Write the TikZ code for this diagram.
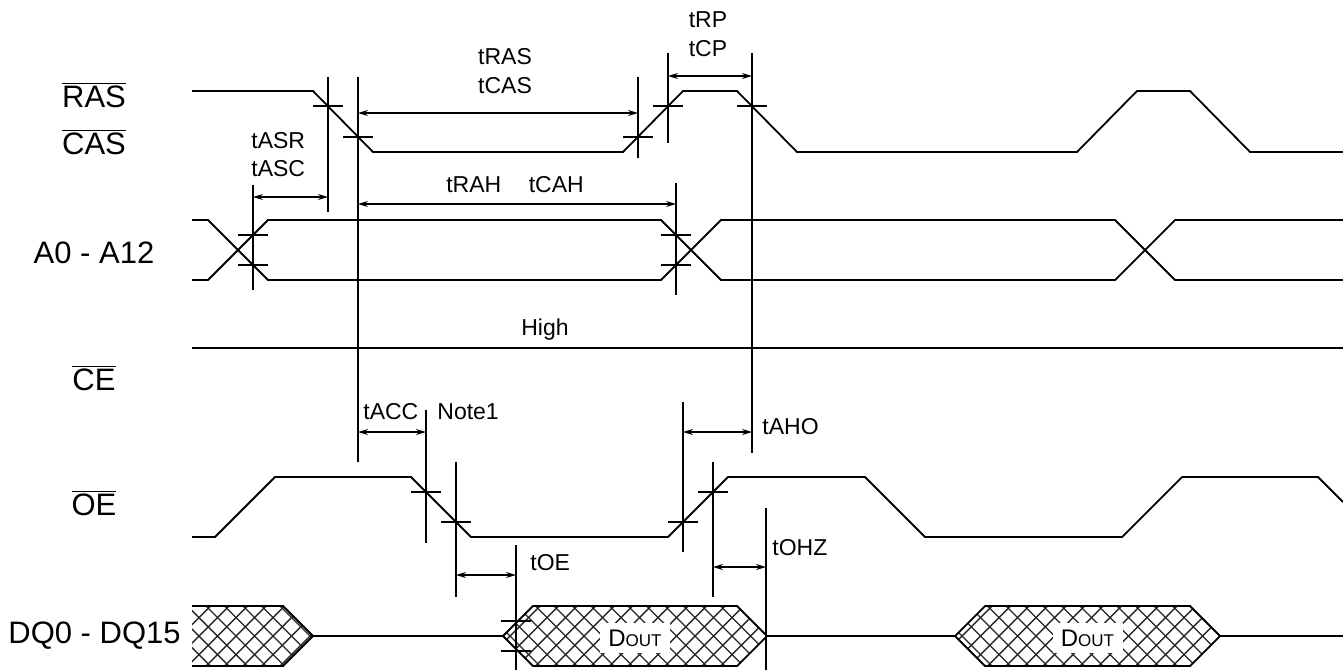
\documentclass[tikz,border=0pt]{standalone}
\usepackage{fontspec}
\setmainfont{Liberation Sans}
\usetikzlibrary{arrows.meta}

\newcommand\tmark[2]{\draw[guide] ({#1-15},#2) -- ({#1+15},#2);}
\newcommand\vguide[3]{\draw[guide] (#1,#2) -- (#1,#3);}
\newcommand\ovl[1]{$\overline{\mbox{#1}}$}
\newcommand\doutbox[3]{%
  \begin{scope}
    \clip (#1,636) -- ({#1+30},606) -- ({#2-30},606) -- (#2,636)
      -- ({#2-30},666) -- ({#1+30},666) -- cycle;
    \foreach \i in {0,...,19} {
      \draw[hatch] ({#1-60+18.5*\i},606) -- ++(60,60);
      \draw[hatch] ({#1-60+18.5*\i},666) -- ++(60,-60);
    }
  \end{scope}
  \draw[sig] (#1,636) -- ({#1+30},606) -- ({#2-30},606) -- (#2,636)
    -- ({#2-30},666) -- ({#1+30},666) -- cycle;
  \node[sml,font=\fontsize{12}{14}\selectfont,fill=white,
        minimum width=35pt,minimum height=15pt] (#3)
    at ({(#1+#2)/2},638) {D\fontsize{8.5}{10}\selectfont OUT};}

\begin{document}
\begin{tikzpicture}[x=0.5pt,y=-0.5pt,
  sig/.style={line width=0.9pt},
  guide/.style={line width=0.6pt},
  hatch/.style={line width=0.7pt,black!85},
  span/.style={line width=0.6pt,{Stealth[length=5pt,width=3pt]}-{Stealth[length=5pt,width=3pt]}},
  big/.style={font=\fontsize{15.5}{18}\selectfont,inner sep=0pt},
  sml/.style={font=\fontsize{11.5}{13}\selectfont,inner sep=0pt}]
  \useasboundingbox (0,0) rectangle (1343,670);
  % signal names
  \node[big] (ras) at (94,95)  {\ovl{RAS}};
  \node[big] (cas) at (94,142) {\ovl{CAS}};
  \node[big] (adr) at (94,253) {A0 - A12};
  \node[big] (ce)  at (94,378) {\ovl{CE}};
  \node[big] (oe)  at (94,503) {\ovl{OE}};
  \node[big,anchor=west] (dq) at (8,636) {DQ0 - DQ15};
  % RAS / CAS
  \draw[sig] (192,91) -- (313,91) -- (373,152) -- (623,152) -- (683,91)
    -- (737,91) -- (797,152) -- (1077,152) -- (1137,91) -- (1190,91)
    -- (1250,152) -- (1343,152);
  \tmark{328}{106} \tmark{358}{137} \tmark{638}{137} \tmark{668}{106}
  \tmark{752}{106}
  % address bus
  \draw[sig] (192,220) -- (208,220) -- (268,280) -- (661,280) -- (721,220)
    -- (1115,220) -- (1175,280) -- (1343,280);
  \draw[sig] (192,280) -- (208,280) -- (268,220) -- (661,220) -- (721,280)
    -- (1115,280) -- (1175,220) -- (1343,220);
  \tmark{253}{235} \tmark{253}{265} \tmark{676}{235} \tmark{676}{265}
  % CE held high
  \draw[sig] (192,348) -- (1343,348);
  \node[sml] (high) at (545,330) {High};
  % OE
  \draw[sig] (192,537) -- (215,537) -- (275,477) -- (411,477) -- (471,537)
    -- (668,537) -- (728,477) -- (865,477) -- (925,537) -- (1122,537)
    -- (1182,477) -- (1318,477) -- (1343,502);
  \tmark{426}{492} \tmark{456}{522} \tmark{683}{522} \tmark{713}{492}
  % data bus
  \begin{scope}
    \clip (192,606) -- (283,606) -- (313,636) -- (283,666) -- (192,666) -- cycle;
    \foreach \i in {0,...,14} {
      \draw[hatch] ({132+18.5*\i},606) -- ++(60,60);
      \draw[hatch] ({132+18.5*\i},666) -- ++(60,-60);
    }
  \end{scope}
  \draw[sig] (192,606) -- (283,606) -- (313,636) -- (283,666) -- (192,666);
  \draw[sig] (313,636) -- (503,636);
  \draw[sig] (767,636) -- (955,636);
  \draw[sig] (1220,636) -- (1343,636);
  \doutbox{503}{767}{dout1}
  \doutbox{955}{1220}{dout2}
  \tmark{516}{621} \tmark{516}{651}
  % reference lines
  \vguide{328}{77}{212}  \vguide{358}{77}{462}  \vguide{638}{77}{158}
  \vguide{668}{53}{143}  \vguide{752}{53}{453}  \vguide{253}{185}{290}
  \vguide{676}{183}{295} \vguide{426}{410}{543} \vguide{456}{462}{597}
  \vguide{516}{545}{670} \vguide{683}{402}{552} \vguide{713}{462}{597}
  \vguide{766}{508}{670}
  % timing spans
  \draw[span] (253,197) -- (328,197);
  \draw[span] (358,113) -- (638,113);
  \draw[span] (358,204) -- (676,204);
  \draw[span] (668,76)  -- (752,76);
  \draw[span] (358,432) -- (426,432);
  \draw[span] (683,432) -- (752,432);
  \draw[span] (456,575) -- (516,575);
  \draw[span] (713,567) -- (766,567);
  \node[sml] (tras) at (505,57) {tRAS};
  \node[sml] (tcas) at (505,86) {tCAS};
  \node[sml] (trp)  at (708,20) {tRP};
  \node[sml] (tcp)  at (708,49) {tCP};
  \node[sml,anchor=west] (tasr) at (251,141) {tASR};
  \node[sml,anchor=west] (tasc) at (251,169) {tASC};
  \node[sml] (trah) at (515,185) {tRAH\hspace{1.2em}tCAH};
  \node[sml,anchor=west] (tacc) at (363,412) {tACC};
  \node[sml,anchor=west] (note) at (437,412) {Note1};
  \node[sml,anchor=west] (taho) at (762,427) {tAHO};
  \node[sml,anchor=west] (toe)  at (530,563) {tOE};
  \node[sml,anchor=west] (tohz) at (772,548) {tOHZ};
\end{tikzpicture}
\end{document}
